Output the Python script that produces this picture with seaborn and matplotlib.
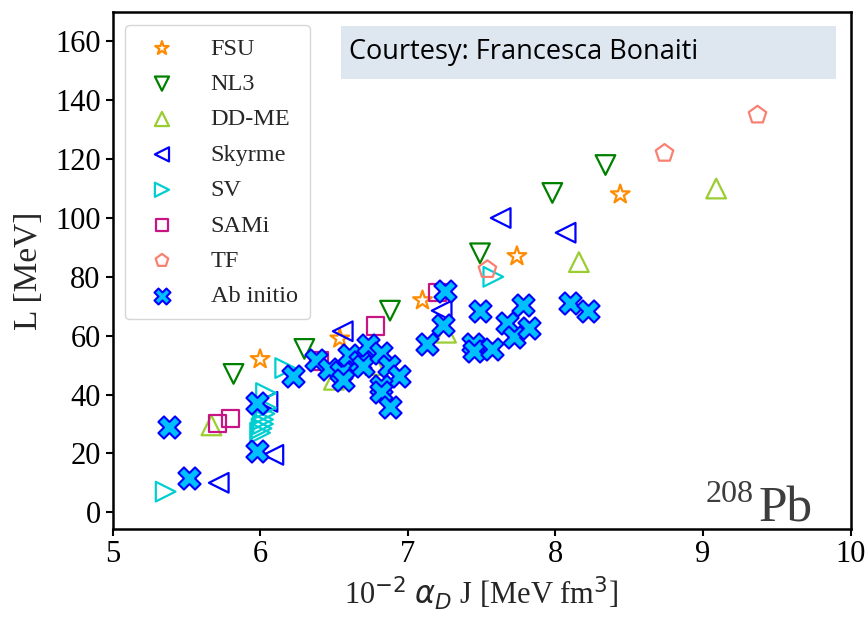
import matplotlib
matplotlib.use("Agg")
import matplotlib.pyplot as plt
from matplotlib.patches import Rectangle
import seaborn as sns

# Dipole polarizability times J vs slope parameter L for 208Pb
fsu_x = [6.00, 6.54, 7.10, 7.74, 8.44]
fsu_y = [52, 59, 72, 87, 108]

nl3_x = [5.82, 6.30, 6.88, 7.49, 7.98, 8.34]
nl3_y = [47, 55.5, 68.5, 88, 108.5, 118]

ddme_x = [5.67, 6.50, 6.78, 7.26, 8.16, 9.09]
ddme_y = [29.5, 45, 50, 61, 85, 110]

skyrme_x = [5.72, 6.09, 6.05, 6.56, 7.23, 7.63, 8.07]
skyrme_y = [10, 19.5, 37.5, 61.5, 68.5, 100, 95]

sv_x = [5.36, 6.00, 6.01, 6.02, 6.02, 6.03, 6.04, 6.04, 6.17, 7.58]
sv_y = [7, 27, 28.5, 30, 31.5, 33.5, 35.5, 40.5, 49, 80]

sami_x = [5.71, 5.80, 6.40, 6.78, 7.20]
sami_y = [30.2, 31.8, 51.4, 63.3, 74.6]

tf_x = [7.54, 8.74, 9.37]
tf_y = [82.5, 122, 135]

abinitio_x = [5.38, 5.52, 5.98, 5.98, 6.22, 6.38, 6.47, 6.55, 6.56, 6.60,
              6.68, 6.73, 6.70, 6.82, 6.87, 6.94, 6.82, 6.82, 6.88, 7.13,
              7.25, 7.24, 7.49, 7.44, 7.45, 7.57, 7.67, 7.78, 7.72, 7.82,
              8.10, 8.22]
abinitio_y = [28.8, 11.5, 37, 20.8, 46.3, 51.8, 48.6, 47.5, 45, 53.5,
              51, 57, 49.6, 54, 49.6, 46.3, 42.8, 40.7, 35.6, 57.1,
              75.2, 63.5, 68.4, 57.1, 54.8, 55.6, 64.2, 70.3, 59.7, 62.7,
              71.2, 68.4]

x_ticks = [5, 6, 7, 8, 9, 10]
y_ticks = [0, 20, 40, 60, 80, 100, 120, 140, 160]

sns.set_style("ticks")
plt.rcParams["font.family"] = ["Liberation Serif", "DejaVu Sans"]
plt.rcParams["mathtext.fontset"] = "dejavusans"

W, H = 866, 633
fig = plt.figure(figsize=(W / 100, H / 100), dpi=100)
left_px, right_px, top_px, bottom_px = 112.5, 850.5, 12, 529
ax = fig.add_axes([left_px / W, 1 - bottom_px / H,
                   (right_px - left_px) / W, (bottom_px - top_px) / H])

groups = [
    ("FSU", fsu_x, fsu_y, "*", "darkorange", 200),
    ("NL3", nl3_x, nl3_y, "v", "green", 200),
    ("DD-ME", ddme_x, ddme_y, "^", "yellowgreen", 200),
    ("Skyrme", skyrme_x, skyrme_y, "<", "blue", 200),
    ("SV", sv_x, sv_y, ">", "darkturquoise", 200),
    ("SAMi", sami_x, sami_y, "s", "mediumvioletred", 155),
    ("TF", tf_x, tf_y, "p", "salmon", 175),
]
for label, xs, ys, mk, col, size in groups:
    sns.scatterplot(x=xs, y=ys, marker=mk, s=size, color=col,
                    facecolor="none", edgecolor=col, linewidth=1.6,
                    label=label, ax=ax, zorder=3)

sns.scatterplot(x=abinitio_x, y=abinitio_y, marker="X", s=255,
                color="deepskyblue", edgecolor="blue", linewidth=1.5,
                label="Ab initio", ax=ax, zorder=4)

ax.set_xlim(5, 10)
ax.set_ylim(-5.7, 170)
ax.set_xticks(x_ticks)
ax.set_yticks(y_ticks)
ax.tick_params(axis="both", direction="out", length=5, width=1.5,
               labelsize=22, colors="black")
ax.tick_params(axis="x", pad=3)
for sp in ax.spines.values():
    sp.set_visible(True)
    sp.set_linewidth(1.8)
    sp.set_color("black")

ax.set_xlabel(r"10$^{-2}$ $\alpha_D$ J [MeV fm$^3$]", fontsize=22, labelpad=4)
ax.set_ylabel("L [MeV]", fontsize=24, labelpad=8)

leg = ax.legend(loc="upper left", bbox_to_anchor=(0.0176, 0.974),
                borderaxespad=0, fontsize=17.5, markerscale=0.72,
                frameon=True, fancybox=True, edgecolor="0.8",
                handletextpad=1.0, borderpad=0.5, labelspacing=0.55)

# Credit banner
fig.patches.append(Rectangle((341 / W, 1 - 79 / H), 495 / W, 53 / H,
                             transform=fig.transFigure, facecolor="#dee6f0",
                             edgecolor="none", zorder=5))
fig.text(349 / W, 1 - 52 / H, "Courtesy: Francesca Bonaiti",
         fontsize=19.5, family="Open Sans", va="center", ha="left",
         color="black", zorder=6)

# Nucleus tag
ax.text(9.02, 3.4, "208", fontsize=23, color="#3d3d3d",
        ha="left", va="baseline")
ax.text(9.375, -3.1, "Pb", fontsize=37, color="#3d3d3d",
        ha="left", va="baseline")

fig.savefig("out.png", dpi=100)
